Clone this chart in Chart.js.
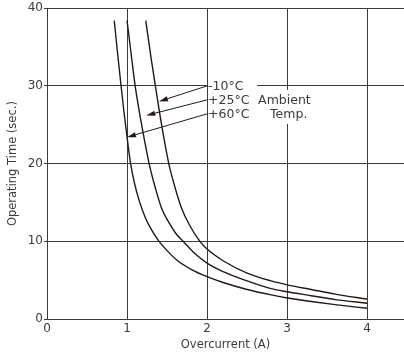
<!DOCTYPE html>
<html><head><meta charset="utf-8">
<script src="https://cdn.jsdelivr.net/npm/chart.js@4"></script>
<style>html,body{margin:0;padding:0;background:#fff}</style>
</head><body>
<canvas id="c" width="404" height="360"></canvas>
<script>
// ---- data ----
const xTickValues = [0, 1, 2, 3, 4];
const yTickValues = [0, 10, 20, 30, 40];
const seriesLabels = ['-10°C', '+25°C', '+60°C'];
// -10°C curve
const currentM10 = [1.234, 1.30, 1.36, 1.42, 1.48, 1.53, 1.60, 1.68, 1.78, 1.91, 2.0, 2.2, 2.5, 2.8, 3.0, 3.3, 3.6, 4.0];
const timeM10    = [38.4, 33.6, 29.6, 25.7, 22.2, 19.6, 16.9, 14.3, 12.1, 10.0, 9.0, 7.5, 5.9, 4.9, 4.4, 3.8, 3.2, 2.55];
// +25°C curve
const currentP25 = [1.0, 1.05, 1.10, 1.16, 1.22, 1.28, 1.35, 1.43, 1.53, 1.61, 1.70, 1.85, 2.0, 2.2, 2.5, 2.8, 3.0, 3.3, 3.6, 4.0];
const timeP25    = [38.4, 34.2, 30.1, 26.3, 22.9, 19.8, 17.0, 14.3, 12.3, 11.0, 10.0, 8.4, 7.2, 6.1, 4.9, 3.9, 3.5, 3.0, 2.5, 2.03];
// +60°C curve
const currentP60 = [0.84, 0.88, 0.92, 0.96, 1.0, 1.04, 1.09, 1.15, 1.23, 1.31, 1.40, 1.50, 1.62, 1.80, 2.0, 2.2, 2.5, 2.8, 3.0, 3.3, 3.6, 4.0];
const timeP60    = [38.4, 34.4, 30.5, 26.8, 23.4, 20.3, 17.6, 15.3, 13.0, 11.4, 10.0, 8.8, 7.6, 6.4, 5.45, 4.7, 3.8, 3.1, 2.7, 2.25, 1.85, 1.38];
// annotation texts
const ambientText = ['Ambient', 'Temp.'];
// label anchors (data coords) and arrow tips (data coords)
const labelY = [30, 28.2, 26.4];
const arrowTipX = [1.40, 1.24, 1.0];
const arrowTipY = [28.0, 26.2, 23.4];

const ink = '#231815';
const gridCol = '#3e3a39';
const txt = '#3e3a39';
const fontFam = '"DejaVu Sans", Verdana, sans-serif';

function pts(xs, ys){ return xs.map((x,i)=>({x:x, y:ys[i]})); }

const annot = {
  id: 'annot',
  afterDatasetsDraw(chart){
    const ctx = chart.ctx, xs = chart.scales.x, ys = chart.scales.y;
    const x0 = xs.getPixelForValue(2);
    ctx.save();
    ctx.fillStyle = '#fff';
    const yTop = ys.getPixelForValue(labelY[0]) - 7;
    const yBot = ys.getPixelForValue(labelY[2]) + 7;
    ctx.fillRect(x0 + 1, yTop, 49, yBot - yTop);
    ctx.fillRect(x0 + 50, ys.getPixelForValue(labelY[1]) - 10, 64, 34);
    ctx.fillStyle = txt;
    ctx.font = '12.5px ' + fontFam;
    ctx.textBaseline = 'middle';
    ctx.textAlign = 'left';
    seriesLabels.forEach((s,i)=>{
      ctx.fillText(s, x0 + 1, ys.getPixelForValue(labelY[i]) + 1);
    });
    ctx.fillText(ambientText[0], x0 + 51, ys.getPixelForValue(labelY[1]) + 1);
    ctx.fillText(ambientText[1], x0 + 63, ys.getPixelForValue(labelY[2]) + 1);
    ctx.strokeStyle = ink; ctx.fillStyle = ink; ctx.lineWidth = 1;
    seriesLabels.forEach((s,i)=>{
      const sx = x0, sy = ys.getPixelForValue(labelY[i]);
      const tx = xs.getPixelForValue(arrowTipX[i]), ty = ys.getPixelForValue(arrowTipY[i]);
      const ang = Math.atan2(ty - sy, tx - sx);
      const hl = 9, hw = 2.6;
      const bx = tx - hl*Math.cos(ang), by = ty - hl*Math.sin(ang);
      ctx.beginPath(); ctx.moveTo(sx, sy); ctx.lineTo(bx, by); ctx.stroke();
      ctx.beginPath();
      ctx.moveTo(tx, ty);
      ctx.lineTo(bx + hw*Math.sin(ang), by - hw*Math.cos(ang));
      ctx.lineTo(bx - hw*Math.sin(ang), by + hw*Math.cos(ang));
      ctx.closePath(); ctx.fill();
    });
    ctx.restore();
  }
};

new Chart(document.getElementById('c'), {
  type: 'scatter',
  data: {
    datasets: [
      {label: seriesLabels[0], data: pts(currentM10, timeM10)},
      {label: seriesLabels[1], data: pts(currentP25, timeP25)},
      {label: seriesLabels[2], data: pts(currentP60, timeP60)}
    ].map(d=>Object.assign(d, {showLine:true, pointRadius:0, borderColor:ink, borderWidth:1.4, cubicInterpolationMode:'monotone', fill:false}))
  },
  options: {
    responsive: false,
    animation: false,
    layout: {padding: {top: 8, right: 0, left: 0, bottom: 0}},
    plugins: {legend: {display:false}, tooltip: {enabled:false}},
    scales: {
      x: {
        type: 'linear', min: 0, max: 4.46,
        afterBuildTicks: s => { s.ticks = xTickValues.map(v=>({value:v})); },
        afterFit: s => { s.height = 41; },
        ticks: {color: txt, font: {family: fontFam, size: 12}, padding: 3, maxRotation: 0},
        grid: {color: gridCol, lineWidth: 1, drawTicks: false},
        border: {display: true, color: gridCol, width: 1},
        title: {display: true, text: 'Overcurrent (A)', color: txt, font: {family: fontFam, size: 11.5}, padding: {top: 0, bottom: 8}}
      },
      y: {
        type: 'linear', min: 0, max: 40,
        afterBuildTicks: s => { s.ticks = yTickValues.map(v=>({value:v})); },
        afterFit: s => { s.width = 47; },
        ticks: {color: txt, font: {family: fontFam, size: 12}, padding: 1},
        grid: {color: gridCol, lineWidth: 1, drawTicks: true, tickLength: 3},
        border: {display: true, color: gridCol, width: 1},
        title: {display: true, text: 'Operating Time (sec.)', color: txt, font: {family: fontFam, size: 11.5}, padding: {top: 6, bottom: 0}}
      }
    }
  },
  plugins: [annot]
});
</script>
</body></html>
